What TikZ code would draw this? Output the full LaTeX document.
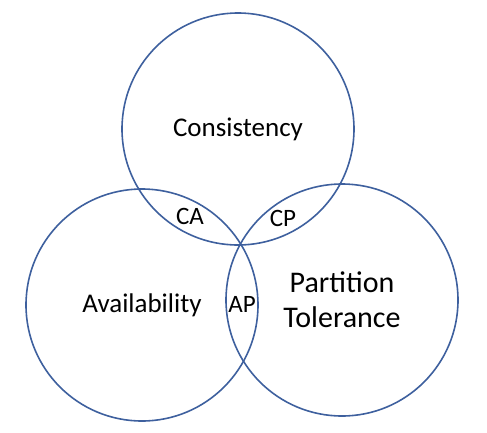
\documentclass[tikz,border=0pt]{standalone}
\usepackage{fontspec}
\setmainfont{Carlito}
\usepackage{tikz}
\definecolor{setblue}{RGB}{62,96,158}
\usetikzlibrary{positioning}

\begin{document}
\begin{tikzpicture}[
    x=1pt, y=-1pt,
    set/.style={circle, draw=setblue, line width=1.6pt, minimum size=232pt, inner sep=0pt, font=\fontsize{27}{32}\selectfont, align=center},
    pair/.style={font=\fontsize{25}{30}\selectfont, inner sep=1pt}
]
\useasboundingbox (0,0) rectangle (487,432);

% the three properties
\node[set] (C) at (238,129) {Consistency};
\node[set] (A) at (142,305) {Availability};
\node[set, font=\fontsize{30}{35}\selectfont] (P) at (342,300) {Partition\\Tolerance};

% the overlaps
\node[pair] (CA) at (190,216) {CA};
\node[pair] (CP) at (283,218) {CP};
\node[pair] (AP) at (242,304) {AP};

\end{tikzpicture}
\end{document}
